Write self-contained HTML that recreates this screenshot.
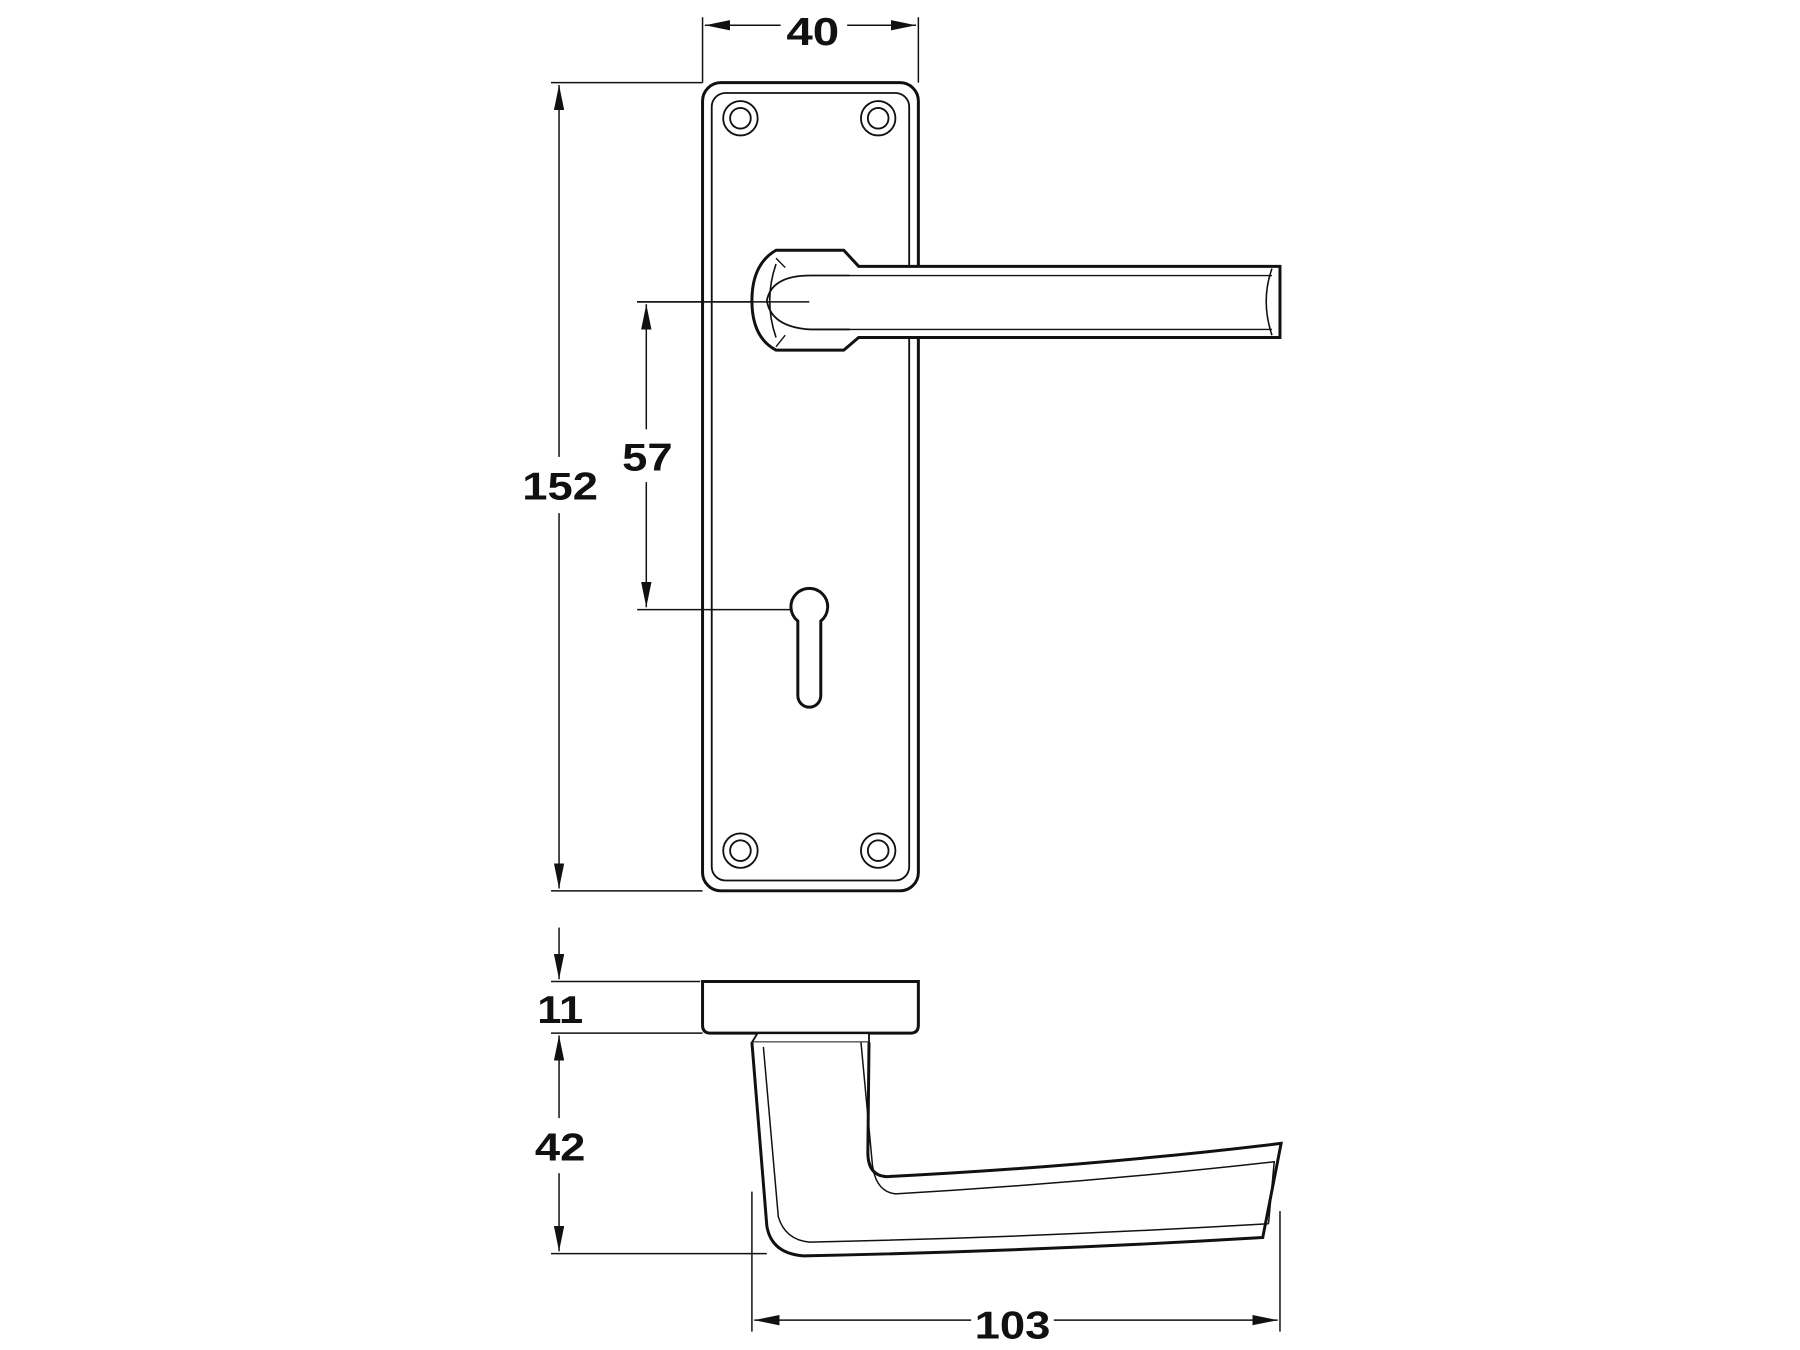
<!DOCTYPE html>
<html><head><meta charset="utf-8"><style>html,body{margin:0;padding:0;background:#fff}svg{display:block}</style></head>
<body>
<svg width="1800" height="1350" viewBox="0 0 1568 1176" xmlns="http://www.w3.org/2000/svg">
<defs>
<marker id="a" viewBox="0 0 22 9" refX="22" refY="4.5" markerWidth="22" markerHeight="9" markerUnits="userSpaceOnUse" orient="auto-start-reverse"><path d="M0,0L22,4.5L0,9Z" fill="#111"/></marker>
</defs>
<g fill="none" stroke="#111" stroke-width="1.3">
<line x1="612" y1="15" x2="612" y2="72"/><line x1="800" y1="15" x2="800" y2="72"/>
<line x1="614" y1="22" x2="680" y2="22" marker-start="url(#a)"/><line x1="738" y1="22" x2="798" y2="22" marker-end="url(#a)"/>
<line x1="480" y1="72" x2="612" y2="72"/><line x1="480" y1="776" x2="612" y2="776"/>
<line x1="487" y1="74" x2="487" y2="398" marker-start="url(#a)"/><line x1="487" y1="447" x2="487" y2="774" marker-end="url(#a)"/>
<line x1="555" y1="263" x2="705" y2="263"/><line x1="555" y1="531" x2="705" y2="531"/>
<line x1="563" y1="265" x2="563" y2="374" marker-start="url(#a)"/><line x1="563" y1="420" x2="563" y2="529" marker-end="url(#a)"/>
<line x1="480" y1="855" x2="610" y2="855"/><line x1="480" y1="900" x2="612" y2="900"/><line x1="480" y1="1092" x2="668" y2="1092"/>
<line x1="487" y1="808" x2="487" y2="853" marker-end="url(#a)"/>
<line x1="487" y1="902" x2="487" y2="974" marker-start="url(#a)"/><line x1="487" y1="1022" x2="487" y2="1090" marker-end="url(#a)"/>
<line x1="655" y1="1038" x2="655" y2="1160"/><line x1="1115" y1="1055" x2="1115" y2="1160"/>
<line x1="657" y1="1150" x2="846" y2="1150" marker-start="url(#a)"/><line x1="918" y1="1150" x2="1113" y2="1150" marker-end="url(#a)"/>
</g>
<g fill="none" stroke="#111" stroke-width="2.6">
<rect x="612" y="72" width="188" height="704" rx="16"/>
<rect x="620" y="81" width="172" height="686" rx="12" stroke-width="1.6"/>
<g stroke-width="1.6">
<circle cx="645" cy="103" r="15"/><circle cx="645" cy="103" r="9"/>
<circle cx="765" cy="103" r="15"/><circle cx="765" cy="103" r="9"/>
<circle cx="645" cy="741" r="15"/><circle cx="645" cy="741" r="9"/>
<circle cx="765" cy="741" r="15"/><circle cx="765" cy="741" r="9"/>
</g>
<path d="M695,541 A16,16 0 1 1 715,541 L715,606 A10,10 0 0 1 695,606 Z" fill="#fff"/>
<path d="M735,218 L676,218 Q655,230 655,262 Q655,294 676,305 L735,305 L748,294 L1115,294 L1115,232 L748,232 Z" fill="#fff"/>
<path d="M676,230 Q665,262 676,294" stroke-width="1.4"/>
<path d="M740,240 L1108,240 M740,287 L1108,287" stroke-width="1.2"/>
<path d="M706,240 Q672,240 668,262 Q672,285 706,287 L740,287 M706,240 L740,240" stroke-width="1.6"/>
<path d="M1108,234 Q1098,262 1108,292" stroke-width="1.4"/>
<path d="M684,233 L676,225 M684,292 L676,302" stroke-width="1.2"/>
<line x1="555" y1="263" x2="705" y2="263" stroke-width="1.3"/>
<path d="M612,855 L800,855 L800,893 Q800,900 793,900 L619,900 Q612,900 612,893 Z" fill="#fff"/>
<path d="M660,900 L757,900 L757,908 L655,908 Z" fill="#fff" stroke-width="1.6"/>
<path d="M655,908 L668,1068 Q672,1092 700,1094 Q900,1090 1100,1078 L1116,996 Q950,1016 772,1025 Q756,1024 756,1004 L757,908" fill="#fff"/>
<path d="M665,912 L678,1060 Q684,1080 705,1082 Q900,1078 1105,1066 M1105,1066 L1110,1012 Q950,1030 780,1040 Q763,1038 760,1015 L750,908" stroke-width="1.3"/>
</g>
<g font-family="Liberation Sans, sans-serif" font-weight="bold" font-size="34" text-anchor="middle" fill="#111">
<text x="708" y="39" textLength="46" lengthAdjust="spacingAndGlyphs">40</text>
<text x="488" y="435" textLength="66" lengthAdjust="spacingAndGlyphs">152</text>
<text x="564" y="410" textLength="44" lengthAdjust="spacingAndGlyphs">57</text>
<text x="488" y="891" textLength="40" lengthAdjust="spacingAndGlyphs">11</text>
<text x="488" y="1011" textLength="44" lengthAdjust="spacingAndGlyphs">42</text>
<text x="882" y="1166" textLength="66" lengthAdjust="spacingAndGlyphs">103</text>
</g>
</svg>
</body></html>
